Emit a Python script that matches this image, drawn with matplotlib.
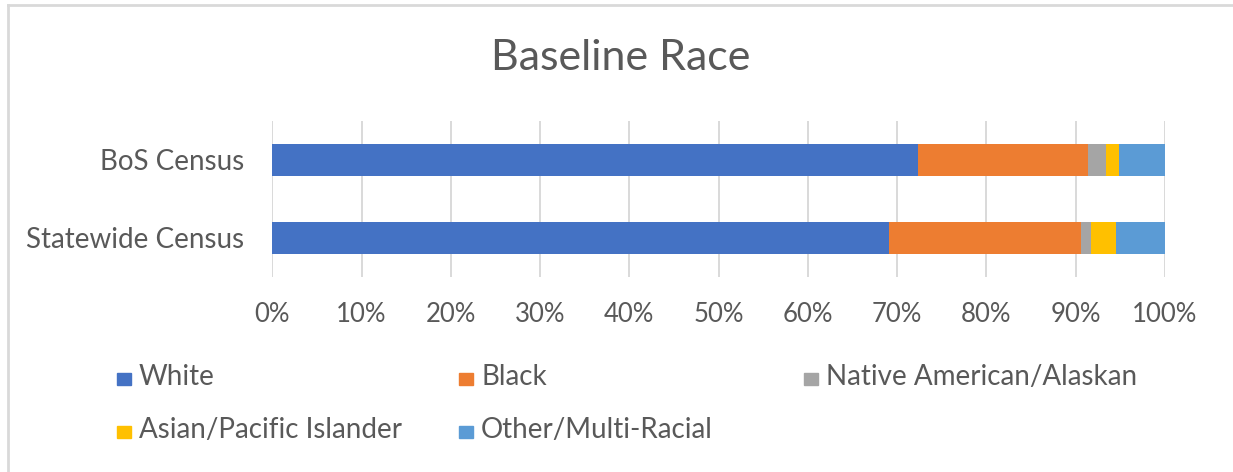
import numpy as np
import matplotlib
matplotlib.use("Agg")
import matplotlib.pyplot as plt
from matplotlib.patches import Rectangle
from matplotlib.lines import Line2D

categories = ["BoS Census", "Statewide Census"]
races = ["White", "Black", "Native American/Alaskan", "Asian/Pacific Islander", "Other/Multi-Racial"]
white = [72.3, 69.1]
black = [19.1, 21.5]
native = [2.0, 1.1]
asian = [1.4, 2.8]
other = [5.2, 5.5]
colors = ["#4472C4", "#ED7D31", "#A5A5A5", "#FFC000", "#5B9BD5"]

W, H = 1233, 472
txt = "#595959"
plt.rcParams['font.family'] = ['Lato', 'DejaVu Sans']

fig = plt.figure(figsize=(W / 100, H / 100), dpi=100)
ax = fig.add_axes([272.3 / W, 1 - 277 / H, (1165 - 272.3) / W, (277 - 121) / H])

y = np.arange(len(categories))
left = np.zeros(len(categories))
for vals, c, lab in zip([white, black, native, asian, other], colors, races):
    ax.barh(y, vals, left=left, height=0.4, color=c, label=lab, zorder=3)
    left = left + np.array(vals)

ax.set_ylim(1.5, -0.5)
ax.set_xlim(0, 100)
ax.set_xticks(np.arange(0, 101, 10))
ax.set_xticklabels(["%d%%" % v for v in range(0, 101, 10)])
ax.set_yticks(y)
ax.set_yticklabels(categories)
ax.tick_params(axis='x', length=0, pad=18, labelsize=18.5, labelcolor=txt)
ax.tick_params(axis='y', length=0, pad=20, labelsize=20, labelcolor=txt)
ax.grid(axis='x', color="#D9D9D9", linewidth=1.4, zorder=0)
for s in ax.spines.values():
    s.set_visible(False)

fig.text(621 / W, 1 - 58 / H, "Baseline Race", ha='center', va='center',
         fontsize=31, color=txt)

# legend laid out like Excel: row-major, 3 columns
leg_pos = [(117, 379), (459, 379), (804, 379), (117, 432), (459, 432)]
for (lx, ly), c, lab in zip(leg_pos, colors, races):
    fig.add_artist(Rectangle((lx / W, 1 - (ly + 6) / H), 14 / W, 12 / H,
                             transform=fig.transFigure, color=c))
    fig.text((lx + 22) / W, 1 - (ly - 2) / H, lab, ha='left', va='center',
             fontsize=20, color=txt)

# chart border (left and top visible)
fig.add_artist(Line2D([8 / W, 8 / W], [0, 1 - 5 / H], transform=fig.transFigure,
                      color="#D9D9D9", linewidth=2))
fig.add_artist(Line2D([8 / W, 1], [1 - 5 / H, 1 - 5 / H], transform=fig.transFigure,
                      color="#D9D9D9", linewidth=2))

fig.savefig("out.png", dpi=100)
